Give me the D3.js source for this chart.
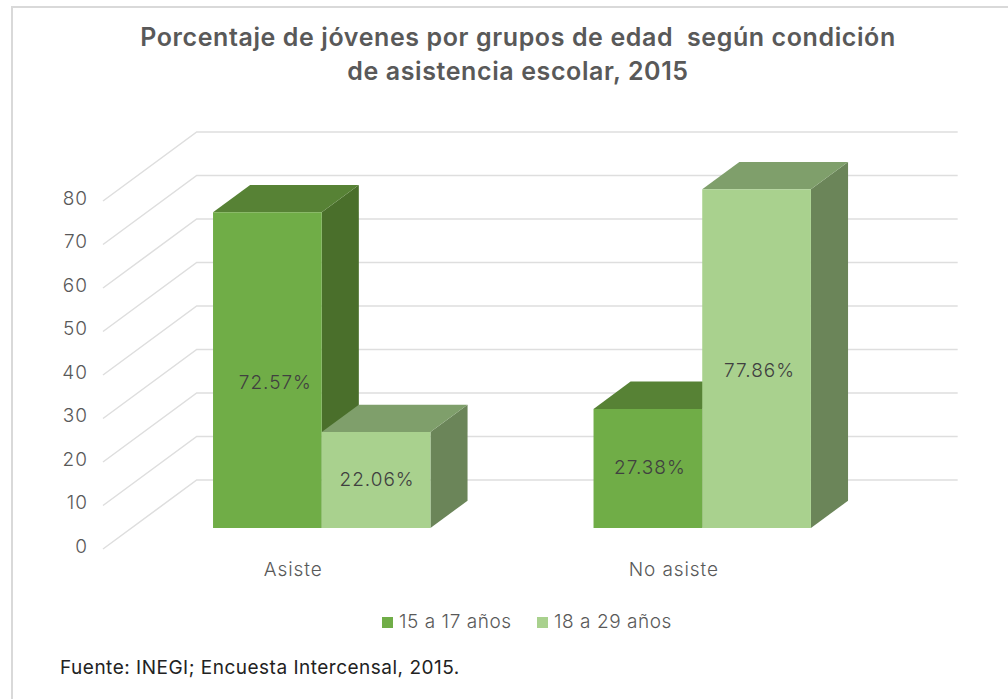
<!DOCTYPE html>
<html>
<head>
<meta charset="utf-8">
<script src="https://d3js.org/d3.v7.min.js"></script>
<style>
    body { margin: 0; background: #fff; }
    svg { display: block; }
    text { font-family: Inter, sans-serif; }
</style>
</head>
<body>
<svg id="chart" width="1008" height="699"></svg>
<script>
// data
var categories = ["Asiste", "No asiste"];
var seriesNames = ["15 a 17 años", "18 a 29 años"];
var values1517 = [72.57, 27.38];
var values1829 = [22.06, 77.86];
var yTicks = [0, 10, 20, 30, 40, 50, 60, 70, 80];
var titleLines = ["Porcentaje de jóvenes por grupos de edad  según condición", "de asistencia escolar, 2015"];
var sourceNote = "Fuente: INEGI; Encuesta Intercensal, 2015.";

var faceColors = [
  { front: "#70ad47", top: "#578235", side: "#4a6f2b" },
  { front: "#a9d18e", top: "#7f9f6b", side: "#6b8559" }
];

var svg = d3.select("#chart");

// outer frame
svg.append("rect")
  .attr("x", 12).attr("y", 7)
  .attr("width", 1000).attr("height", 700)
  .attr("fill", "#fff")
  .attr("stroke", "#d9d9d9")
  .attr("stroke-width", 2);

// scales for the front plane of the box, depth is added by project()
var x = d3.scaleBand().domain(categories).range([103, 864]);
var xInner = d3.scaleBand().domain(seriesNames).range([0, 217.4]);
var y = d3.scaleLinear().domain([0, 80]).range([549, 201]);

var depthX = 93.7, depthY = 69;
var barFront = 0.304, barBack = 0.7;

function project(px, py, z) {
  return [px + z * depthX, py - z * depthY];
}

var line = d3.line();

// gridlines: side wall + back wall
var grid = svg.append("g");
yTicks.forEach(function (t) {
  grid.append("path")
    .attr("d", line([project(x.range()[0], y(t), 0), project(x.range()[0], y(t), 1), project(x.range()[1], y(t), 1)]))
    .attr("fill", "none")
    .attr("stroke", "#dedede")
    .attr("stroke-width", 1.5);
});

// y labels
svg.append("g").selectAll("text")
  .data(yTicks)
  .enter().append("text")
  .attr("x", 88)
  .attr("y", function (d) { return y(d) - 3; })
  .attr("dy", "0.36em")
  .attr("text-anchor", "end")
  .attr("font-size", 19)
  .attr("font-weight", 300)
  .attr("letter-spacing", 1)
  .attr("fill", "#595959")
  .text(function (d) { return d; });

function barLeft(cat, s) {
  return x(cat) + (x.bandwidth() - xInner.range()[1]) / 2 + xInner(s);
}

// bars, left to right so the right one sits over its neighbour's side face
function drawBar(g, cat, s, value, colors) {
  var xl = barLeft(cat, s);
  var xr = xl + xInner.bandwidth();
  var yb = y(0), yt = y(value);
  var a = project(xl, yt, barFront), b = project(xr, yt, barFront),
      c = project(xr, yt, barBack), d = project(xl, yt, barBack),
      e = project(xr, yb, barFront), f = project(xr, yb, barBack),
      h = project(xl, yb, barFront);
  g.append("path").attr("d", line([b, c, f, e]) + "Z").attr("fill", colors.side);
  g.append("path").attr("d", line([a, b, c, d]) + "Z").attr("fill", colors.top);
  g.append("path").attr("d", line([a, b, e, h]) + "Z").attr("fill", colors.front);
}

// the labels were moved by hand in the original, these undo that
var labelNudge = [[[8, 12], [1, -1]], [[2, -1], [3, 11]]];

var bars = svg.append("g");
var labels = [];
categories.forEach(function (cat, i) {
  var vals = [values1517[i], values1829[i]];
  vals.forEach(function (v, k) {
    drawBar(bars, cat, seriesNames[k], v, faceColors[k]);
    var p = project(barLeft(cat, seriesNames[k]) + xInner.bandwidth() / 2, y(v / 2), barFront);
    labels.push({ x: p[0] + labelNudge[i][k][0], y: p[1] + labelNudge[i][k][1], v: v });
  });
});

// data labels
svg.append("g").selectAll("text")
  .data(labels)
  .enter().append("text")
  .attr("x", function (d) { return d.x; })
  .attr("y", function (d) { return d.y; })
  .attr("dy", "0.36em")
  .attr("text-anchor", "middle")
  .attr("font-size", 19)
  .attr("font-weight", 300)
  .attr("letter-spacing", 1)
  .attr("fill", "#404040")
  .text(function (d) { return d.v.toFixed(2) + "%"; });

// category labels
svg.append("g").selectAll("text")
  .data(categories)
  .enter().append("text")
  .attr("x", function (d) { return x(d) + x.bandwidth() / 2; })
  .attr("y", 576)
  .attr("text-anchor", "middle")
  .attr("font-size", 19)
  .attr("font-weight", 300)
  .attr("letter-spacing", 0.9)
  .attr("fill", "#595959")
  .text(function (d) { return d; });

// title
svg.append("g").selectAll("text")
  .data(titleLines)
  .enter().append("text")
  .attr("x", 518)
  .attr("y", function (d, i) { return 46 + i * 34; })
  .attr("text-anchor", "middle")
  .style("white-space", "pre")
  .attr("font-size", 25)
  .attr("font-weight", 600)
  .attr("letter-spacing", 0.6)
  .attr("fill", "#595959")
  .text(function (d) { return d; });

// legend
var legendX = [382, 537];
var legend = svg.append("g").selectAll("g")
  .data(seriesNames)
  .enter().append("g")
  .attr("transform", function (d, i) { return "translate(" + legendX[i] + ",0)"; });
legend.append("rect")
  .attr("y", 617).attr("width", 11).attr("height", 11)
  .attr("fill", function (d, i) { return faceColors[i].front; });
legend.append("text")
  .attr("x", 17).attr("y", 628)
  .attr("font-size", 19)
  .attr("font-weight", 300)
  .attr("letter-spacing", 0.55)
  .attr("fill", "#595959")
  .text(function (d) { return d; });

// source note
svg.append("text")
  .attr("x", 60).attr("y", 674)
  .attr("font-size", 19)
  .attr("font-weight", 400)
  .attr("letter-spacing", 0.5)
  .attr("fill", "#222")
  .text(sourceNote);
</script>
</body>
</html>
